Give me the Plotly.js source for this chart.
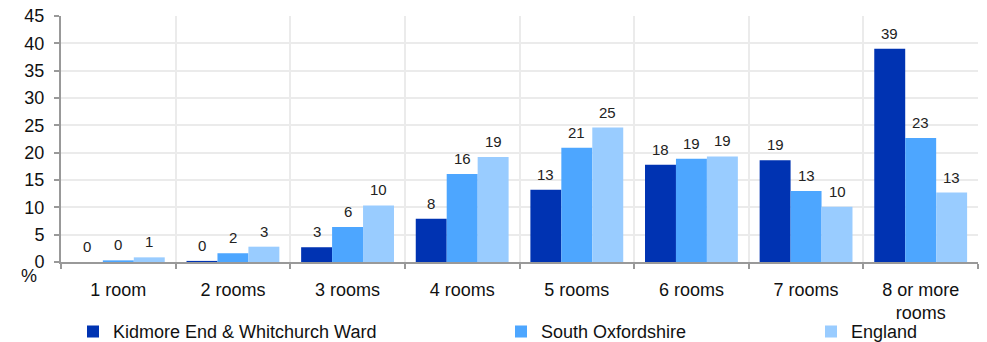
<!DOCTYPE html>
<html>
<head>
<meta charset="utf-8">
<script src="https://cdn.plot.ly/plotly-3.0.1.min.js"></script>
<style>html,body{margin:0;padding:0;background:#fff;}#chart{width:987px;height:342px;}</style>
</head>
<body>
<div id="chart"></div>
<script>
const categories = ["1 room", "2 rooms", "3 rooms", "4 rooms", "5 rooms", "6 rooms", "7 rooms", "8 or more<br>rooms"];
const seriesNames = ["Kidmore End & Whitchurch Ward", "South Oxfordshire", "England"];
const kidmore = [0.0, 0.2, 2.7, 7.9, 13.2, 17.8, 18.6, 39.0];
const southOxon = [0.3, 1.6, 6.4, 16.1, 20.9, 18.9, 13.0, 22.7];
const england = [0.85, 2.8, 10.35, 19.2, 24.6, 19.3, 10.1, 12.7];
const colors = ["#0033B2", "#4DA6FF", "#99CCFF"];
const yTicks = [0, 5, 10, 15, 20, 25, 30, 35, 40, 45];

const FONT = "Liberation Sans, Arial, sans-serif";
const W = 987, H = 342;
const margin = {l: 61, r: 9, t: 16, b: 80};
const bargap = 0.19;

const series = [kidmore, southOxon, england];
const legendIds = ["legend", "legend2", "legend3"];
const traces = series.map((vals, i) => ({
  type: "bar",
  name: seriesNames[i],
  x: categories,
  y: vals,
  marker: {color: colors[i]},
  hoverinfo: "skip",
  legend: legendIds[i]
}));

// value labels above bars, placed through the axes' scales
const catWidthPx = (W - margin.l - margin.r) / categories.length;
const barWidthPx = catWidthPx * (1 - bargap) / series.length;
const annotations = [];
series.forEach((vals, i) => {
  vals.forEach((v, j) => {
    annotations.push({
      x: categories[j], y: v, xref: "x", yref: "y",
      text: String(Math.round(v)), showarrow: false,
      xanchor: "center", yanchor: "bottom",
      xshift: (i - 1) * barWidthPx, yshift: 5,
      font: {family: FONT, size: 15, color: "#222"}
    });
  });
});
annotations.push({
  text: "%", xref: "paper", yref: "paper", x: -0.035, y: -0.055,
  xanchor: "center", yanchor: "middle", showarrow: false,
  font: {family: FONT, size: 18, color: "#111"}
});

const legendFont = {family: FONT, size: 18, color: "#111"};
const mkLegend = (x) => ({x: x, y: 0.03, xref: "container", yref: "container", xanchor: "left", yanchor: "middle",
  orientation: "h", font: legendFont, bgcolor: "rgba(0,0,0,0)", itemwidth: 30, tracegroupgap: 0});

const layout = {
  width: W, height: H,
  margin: margin,
  paper_bgcolor: "#fff", plot_bgcolor: "#fff",
  barmode: "group",
  bargap: bargap,
  bargroupgap: 0,
  showlegend: true,
  legend: mkLegend(73 / W),
  legend2: mkLegend(501 / W),
  legend3: mkLegend(811 / W),
  font: {family: FONT, color: "#111"},
  xaxis: {
    type: "category",
    tickson: "boundaries",
    ticks: "outside", ticklen: 5, tickcolor: "#999", tickwidth: 2,
    showline: true, linecolor: "#999", linewidth: 2,
    showgrid: true, gridcolor: "#ebebeb", gridwidth: 2,
    tickfont: {family: FONT, size: 18, color: "#111"},
    ticklabelstandoff: 10,
    fixedrange: true
  },
  yaxis: {
    range: [0, 45],
    tickvals: yTicks,
    ticktext: yTicks.map(String),
    ticks: "outside", ticklen: 5, tickcolor: "#999", tickwidth: 2,
    showline: true, linecolor: "#999", linewidth: 2,
    showgrid: true, gridcolor: "#ebebeb", gridwidth: 2,
    zeroline: false,
    tickfont: {family: FONT, size: 18, color: "#111"},
    ticklabelstandoff: 6,
    fixedrange: true
  },
  annotations: annotations
};

Plotly.newPlot("chart", traces, layout, {displayModeBar: false, staticPlot: true});
</script>
</body>
</html>
